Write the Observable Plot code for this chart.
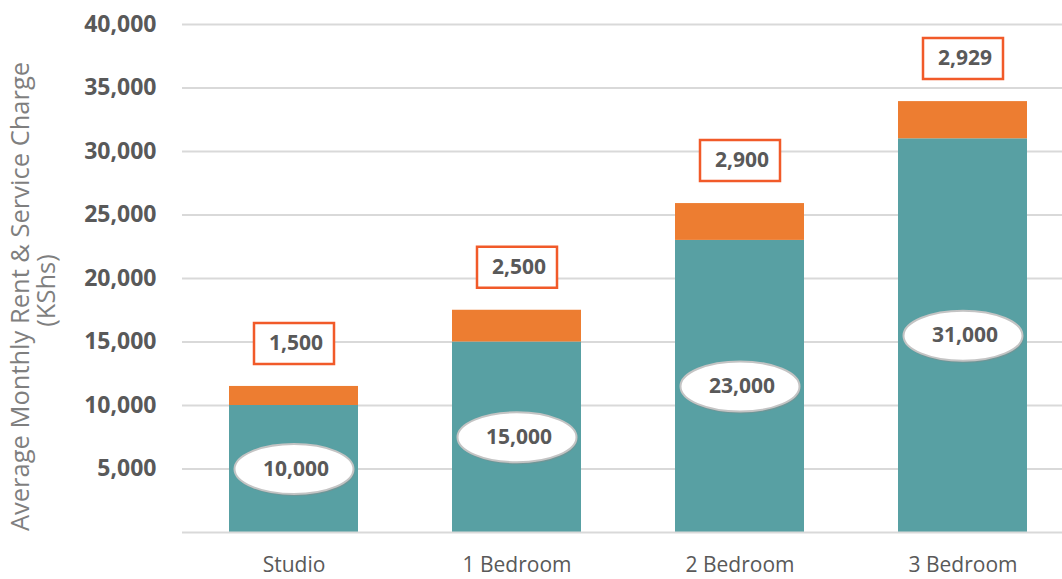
<!DOCTYPE html>
<html><head><meta charset="utf-8">
<script src="https://cdn.jsdelivr.net/npm/d3@7"></script>
<script src="https://cdn.jsdelivr.net/npm/@observablehq/plot@0.6"></script>
<style>body{margin:0;background:#fff;}</style>
</head><body><div id="chart"></div>
<script>
const categories = ["Studio", "1 Bedroom", "2 Bedroom", "3 Bedroom"];
const rent = [10000, 15000, 23000, 31000];
const serviceCharge = [1500, 2500, 2900, 2929];
const seriesNames = ["Rent", "Service Charge"];
const seriesColors = ["#58A0A3", "#ED7D31"];
const yTicks = [5000, 10000, 15000, 20000, 25000, 30000, 35000, 40000];
const yTitle = ["Average Monthly Rent & Service Charge", "(KShs)"];

const stacked = categories.flatMap((c, i) => [
  {category: c, series: seriesNames[0], value: rent[i]},
  {category: c, series: seriesNames[1], value: serviceCharge[i]}
]);
const rows = categories.map((c, i) => ({category: c, rent: rent[i], service: serviceCharge[i], total: rent[i] + serviceCharge[i]}));
const fmt = d3.format(",");

function ellipseSymbol(rx, ry) {
  return {draw(ctx) {
    const k = 0.5522847498;
    ctx.moveTo(rx, 0);
    ctx.bezierCurveTo(rx, ry * k, rx * k, ry, 0, ry);
    ctx.bezierCurveTo(-rx * k, ry, -rx, ry * k, -rx, 0);
    ctx.bezierCurveTo(-rx, -ry * k, -rx * k, -ry, 0, -ry);
    ctx.bezierCurveTo(rx * k, -ry, rx, -ry * k, rx, 0);
    ctx.closePath();
  }};
}
function rectSymbol(w, h) {
  return {draw(ctx) { ctx.rect(-w / 2, -h / 2, w, h); }};
}

const plot = Plot.plot({
  width: 1062, height: 579,
  marginLeft: 182, marginRight: 0, marginTop: 24, marginBottom: 47,
  style: {fontFamily: "'Open Sans', sans-serif", color: "#595959", background: "#fff", overflow: "visible"},
  x: {domain: categories, range: [182, 1074], paddingInner: 0.42, paddingOuter: 0.21, label: null},
  y: {domain: [0, 40000], label: null},
  color: {domain: seriesNames, range: seriesColors},
  marks: [
    Plot.ruleY(yTicks, {stroke: "#d9d9d9", strokeWidth: 2}),
    Plot.barY(stacked, {x: "category", y: "value", fill: "series"}),
    Plot.ruleY([0], {stroke: "#d9d9d9", strokeWidth: 2}),
    Plot.axisY({ticks: yTicks, tickFormat: d => fmt(d), tickSize: 0, tickPadding: 26, fontSize: 23, fontWeight: "bold", label: null}),
    Plot.axisX({tickSize: 0, tickPadding: 25, fontSize: 21, label: null}),
    Plot.dot(rows, {x: "category", y: d => d.rent / 2, symbol: ellipseSymbol(59.5, 25), fill: "#8a8a8a", fillOpacity: 0.45, stroke: "none", dx: 1, dy: 2}),
    Plot.dot(rows, {x: "category", y: d => d.rent / 2, symbol: ellipseSymbol(59.5, 25), fill: "white", stroke: "#c4c4c4", strokeWidth: 2}),
    Plot.text(rows, {x: "category", y: d => d.rent / 2, dx: 2, text: d => fmt(d.rent), fontSize: 21, fontWeight: "bold", fill: "#595959"}),
    Plot.dot(rows, {x: "category", y: "total", dy: -43, symbol: rectSymbol(80, 41), fill: "white", stroke: "#F15A29", strokeWidth: 2.5}),
    Plot.text(rows, {x: "category", y: "total", dy: -43, dx: 2, text: d => fmt(d.service), fontSize: 21, fontWeight: "bold", fill: "#595959"}),
    Plot.text([yTitle[0]], {frameAnchor: "left", textAnchor: "middle", rotate: -90, dx: -162, dy: 18, fontSize: 25.5, fill: "#7f7f7f"}),
    Plot.text([yTitle[1]], {frameAnchor: "left", textAnchor: "middle", rotate: -90, dx: -136, dy: 12, fontSize: 25.5, fill: "#7f7f7f"})
  ]
});
document.getElementById("chart").appendChild(plot);
</script>
</body></html>
